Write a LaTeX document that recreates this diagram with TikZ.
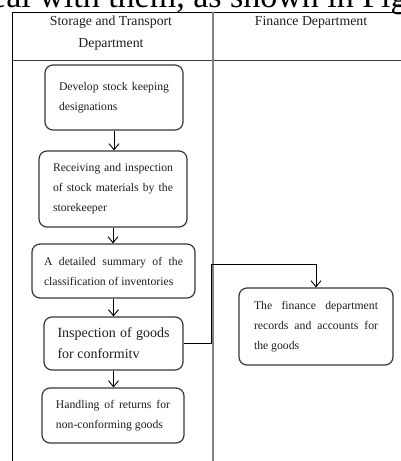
\documentclass[tikz,border=0pt]{standalone}
\usepackage{fontspec}
\setmainfont{Liberation Serif}
\usetikzlibrary{arrows.meta,calc}
\definecolor{boxline}{HTML}{383838}
\definecolor{textcol}{HTML}{1E1E1E}
\definecolor{midrule}{HTML}{808080}
\hyphenpenalty=10000\relax
\exhyphenpenalty=10000\relax
\begin{document}
\begin{tikzpicture}[x=1pt,y=-1pt,
  proc/.style={draw=boxline, line width=1.2pt, rounded corners=8pt, fill=white,
    align=justify, inner sep=0pt, text=textcol,
    font=\fontsize{11.7}{20}\selectfont},
  flow/.style={draw=black, line width=0.9pt,
    -{Straight Barb[length=6pt,width=10pt,line width=0.9pt]}},
  frame/.style={draw=black, line width=0.9pt},
  head/.style={inner sep=0pt, text=textcol, font=\fontsize{13.8}{22}\selectfont, align=center}]

\useasboundingbox (0,0) rectangle (401,461);
\clip (0,0) rectangle (401,461);

% running text above the table
\node[anchor=base west, inner sep=0pt, text=black, font=\fontsize{34}{40}\selectfont]
  (line) at (-26,7.5) {deal with them, as shown in Fig};

% table frame
\draw[frame] (12,470) -- (12,12) -- (410,12);
\draw[frame, draw=black!75] (12,60) -- (410,60);
\draw[draw=midrule, line width=1.5pt] (213,12) -- (213,470);

% column headings
\node[head] (h1) at (111,32.8) {Storage and Transport\\Department};
\node[head, anchor=base] (h2) at (311,25.5) {Finance Department};

% process boxes
\node[proc, minimum width=138, minimum height=65, text width=110] (b1) at (114,97.5)
  {Develop stock keeping\linebreak designations};
\node[proc, minimum width=148, minimum height=76, text width=120] (b2) at (113,189)
  {Receiving and inspection\linebreak of stock materials by the\linebreak storekeeper};
\node[proc, minimum width=163, minimum height=54, text width=139] (b3) at (113.5,271)
  {A detailed summary of the\linebreak classification of inventories};
\node[proc, minimum width=139, minimum height=53, text width=112,
  font=\fontsize{14}{21}\selectfont] (b4) at (113.5,343.5)
  {Inspection of goods\linebreak for conformitv};
\node[proc, minimum width=142, minimum height=55, text width=114] (b5) at (113,415.5)
  {Handling of returns for\linebreak non-conforming goods};
\node[proc, minimum width=154, minimum height=77, text width=124] (b6) at (316,326.5)
  {The finance department\linebreak records and accounts for\linebreak the goods};

% connectors
\draw[flow] (b1.south) -- (b1.south |- b2.north);
\draw[flow] (b2.south) -- (b2.south |- b3.north);
\draw[flow] (b3.south) -- (b3.south |- b4.north);
\draw[flow] (b4.south) -- (b4.south |- b5.north);
\coordinate (bend) at (211.5,264);
\draw[flow] (b4.east) -| (bend) -| (b6.north);
\end{tikzpicture}
\end{document}
